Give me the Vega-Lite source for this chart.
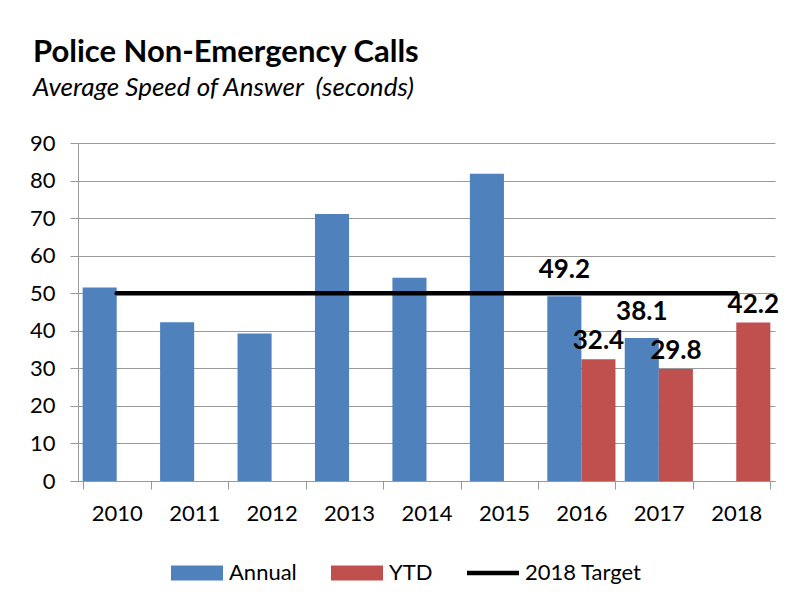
{
  "$schema": "https://vega.github.io/schema/vega-lite/v6.json",
  "autosize": "none",
  "width": 697,
  "height": 338,
  "padding": {"left": 78, "top": 143, "right": 30, "bottom": 125},
  "background": "white",
  "title": {
    "text": "Police Non-Emergency Calls",
    "subtitle": "Average Speed of Answer \u00a0(seconds)",
    "anchor": "start",
    "frame": "group",
    "dx": -45,
    "offset": 30,
    "font": "Lato",
    "fontSize": 31,
    "fontWeight": "bold",
    "color": "black",
    "subtitleFont": "Lato",
    "subtitleFontSize": 26,
    "subtitleFontStyle": "italic",
    "subtitleColor": "black",
    "subtitlePadding": 6
  },
  "datasets": {
    "bars": [
      {"year": "2010", "series": "Annual", "value": 51.5},
      {"year": "2011", "series": "Annual", "value": 42.3},
      {"year": "2012", "series": "Annual", "value": 39.3},
      {"year": "2013", "series": "Annual", "value": 71.1},
      {"year": "2014", "series": "Annual", "value": 54.1},
      {"year": "2015", "series": "Annual", "value": 81.8},
      {"year": "2016", "series": "Annual", "value": 49.2},
      {"year": "2016", "series": "YTD", "value": 32.4},
      {"year": "2017", "series": "Annual", "value": 38.1},
      {"year": "2017", "series": "YTD", "value": 29.8},
      {"year": "2018", "series": "YTD", "value": 42.2}
    ],
    "target": [
      {"year": "2010", "series": "2018 Target", "value": 50},
      {"year": "2011", "series": "2018 Target", "value": 50},
      {"year": "2012", "series": "2018 Target", "value": 50},
      {"year": "2013", "series": "2018 Target", "value": 50},
      {"year": "2014", "series": "2018 Target", "value": 50},
      {"year": "2015", "series": "2018 Target", "value": 50},
      {"year": "2016", "series": "2018 Target", "value": 50},
      {"year": "2017", "series": "2018 Target", "value": 50},
      {"year": "2018", "series": "2018 Target", "value": 50}
    ]
  },
  "encoding": {
    "x": {
      "field": "year",
      "type": "nominal",
      "scale": {"paddingInner": 0.12, "paddingOuter": 0.06},
      "axis": {
        "title": null,
        "labelAngle": 0,
        "labelFont": "Lato",
        "labelFontSize": 22,
        "labelColor": "black",
        "labelPadding": 14,
        "tickBand": "extent",
        "tickSize": 8,
        "tickColor": "#999999",
        "domainColor": "#999999",
        "grid": false
      }
    },
    "y": {
      "field": "value",
      "type": "quantitative",
      "scale": {"domain": [0, 90], "nice": false},
      "axis": {
        "title": null,
        "values": [0, 10, 20, 30, 40, 50, 60, 70, 80, 90],
        "labelFont": "Lato",
        "labelFontSize": 22,
        "labelColor": "black",
        "labelPadding": 15,
        "tickSize": 8,
        "tickColor": "#999999",
        "domainColor": "#999999",
        "gridColor": "#999999",
        "gridOpacity": 1
      }
    }
  },
  "layer": [
    {
      "data": {"name": "bars"},
      "mark": {"type": "bar"},
      "encoding": {
        "xOffset": {"field": "series", "type": "nominal", "scale": {"domain": ["Annual", "YTD"], "paddingInner": 0, "paddingOuter": 0}},
        "color": {
          "field": "series",
          "type": "nominal",
          "scale": {"domain": ["Annual", "YTD", "2018 Target"], "range": ["#4F81BD", "#C0504D", "#000000"]},
          "legend": {
            "title": null,
            "orient": "none",
            "legendX": 93,
            "legendY": 404,
            "direction": "horizontal",
            "labelFont": "Lato",
            "labelFontSize": 22,
            "labelColor": "black",
            "labelOffset": 6,
            "columnPadding": 34,
            "symbolType": "M-1,-0.29H1V0.29H-1Z",
            "symbolSize": 2704,
            "symbolStrokeWidth": 0,
            "encode": {
              "symbols": {
                "update": {
                  "shape": {"signal": "datum.label === '2018 Target' ? 'M-1,-0.09H1V0.09H-1Z' : 'M-1,-0.29H1V0.29H-1Z'"}
                }
              }
            }
          }
        }
      }
    },
    {
      "data": {"name": "target"},
      "mark": {"type": "line", "color": "black", "strokeWidth": 4.5, "strokeCap": "round"},
      "encoding": {
        "color": {"field": "series", "type": "nominal"}
      }
    },
    {
      "data": {"name": "bars"},
      "transform": [
        {"filter": {"field": "year", "oneOf": ["2016", "2017", "2018"]}},
        {"filter": {"field": "series", "equal": "Annual"}}
      ],
      "mark": {"type": "text", "font": "Lato", "fontSize": 26, "fontWeight": "bold", "baseline": "alphabetic", "dy": -18, "color": "black"},
      "encoding": {
        "xOffset": {"field": "series", "type": "nominal"},
        "text": {"field": "value", "type": "quantitative", "format": ".1f"}
      }
    },
    {
      "data": {"name": "bars"},
      "transform": [
        {"filter": {"field": "year", "oneOf": ["2016", "2017", "2018"]}},
        {"filter": {"field": "series", "equal": "YTD"}}
      ],
      "mark": {"type": "text", "font": "Lato", "fontSize": 26, "fontWeight": "bold", "baseline": "alphabetic", "dy": -10, "color": "black"},
      "encoding": {
        "xOffset": {"field": "series", "type": "nominal"},
        "text": {"field": "value", "type": "quantitative", "format": ".1f"}
      }
    }
  ],
  "config": {
    "view": {"stroke": null}
  }
}
